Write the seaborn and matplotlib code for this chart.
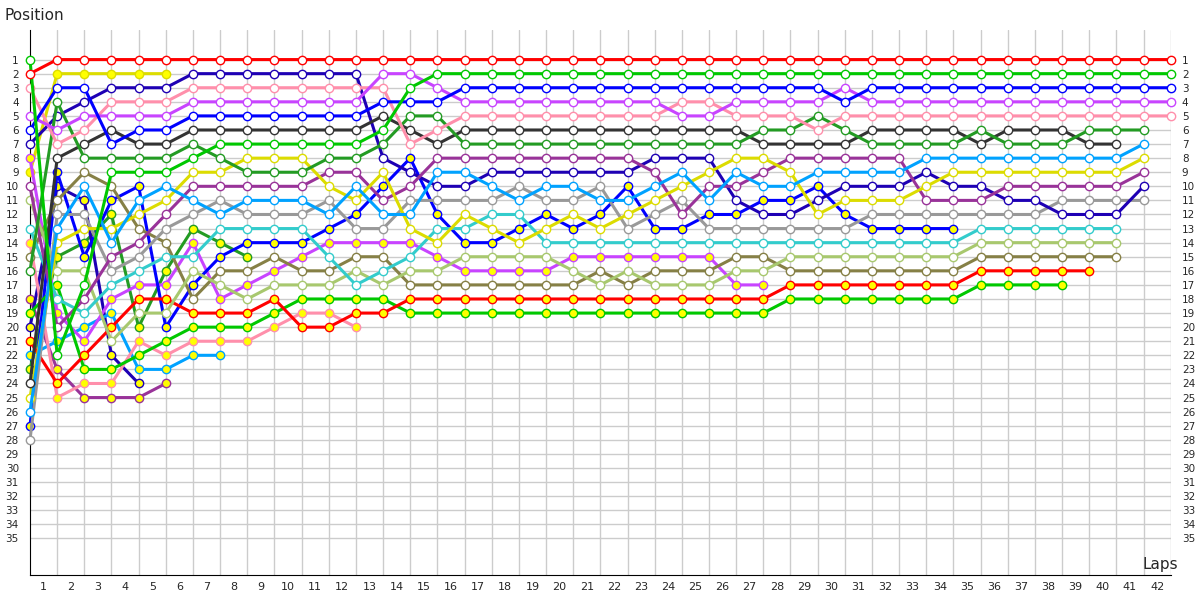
import seaborn as sns
import matplotlib.pyplot as plt
import pandas as pd
import numpy as np

# positions per lap, starting with the grid (lap 0)
red = [2, 1,1,1,1,1,1,1,1,1,1, 1,1,1,1,1,1,1,1,1,1, 1,1,1,1,1,1,1,1,1,1, 1,1,1,1,1,1,1,1,1,1, 1,1]
green = [1, 22,17,9,9,9,8,7,7,7,7, 7,7,6,3,2,2,2,2,2,2, 2,2,2,2,2,2,2,2,2,2, 2,2,2,2,2,2,2,2,2,2, 2,2]
blue = [6, 3,3,7,6,6,5,5,5,5,5, 5,5,4,4,4,3,3,3,3,3, 3,3,3,3,3,3,3,3,3,4, 3,3,3,3,3,3,3,3,3,3, 3,3]
violet = [5, 6,5,5,5,5,4,4,4,4,4, 4,4,2,2,3,4,4,4,4,4, 4,4,4,5,5,4,4,4,4,3, 4,4,4,4,4,4,4,4,4,4, 4,4]
pink = [3, 7,6,4,4,4,3,3,3,3,3, 3,3,3,7,6,5,5,5,5,5, 5,5,5,4,4,5,5,5,6,5, 5,5,5,5,5,5,5,5,5,5, 5,5]
dkgreen = [16, 4,8,8,8,8,7,8,9,9,9, 8,8,7,5,5,7,7,7,7,7, 7,7,7,7,7,7,6,6,5,6, 7,7,7,7,6,7,7,7,6,6, 6]
black = [24, 8,7,6,7,7,6,6,6,6,6, 6,6,5,6,7,6,6,6,6,6, 6,6,6,6,6,6,7,7,7,7, 6,6,6,6,7,6,6,6,7,7]
ltblue = [26, 13,10,14,11,10,11,12,11,11,11, 12,10,12,12,9,9,10,11,10,10, 11,11,10,9,11,9,10,10,9,9, 9,9,8,8,8,8,8,8,8,8, 7]
yellow = [25, 14,13,13,12,11,9,9,8,8,8, 10,11,9,13,14,12,13,14,13,12, 13,12,11,10,9,8,8,9,12,11, 11,11,10,9,9,9,9,9,9,9, 8]
purple = [10, 20,18,15,14,12,10,10,10,10,10, 9,9,11,10,8,8,8,8,8,8, 8,8,9,12,10,10,9,8,8,8, 8,8,11,11,11,10,10,10,10,10, 9]
navy = [7, 5,4,3,3,3,2,2,2,2,2, 2,2,8,9,10,10,9,9,9,9, 9,9,8,8,8,11,12,12,11,10, 10,10,9,10,10,11,11,12,12,12, 10]
grey = [28, 12,12,16,15,13,12,11,12,12,12, 11,13,13,11,11,11,11,10,11,11, 10,13,12,11,13,13,13,13,13,13, 12,12,12,12,12,12,12,11,11,11, 11]
cyan = [13, 18,19,17,16,15,15,13,13,13,13, 15,17,16,15,13,13,12,12,14,14, 14,14,14,14,14,14,14,14,14,14, 14,14,14,14,13,13,13,13,13,13]
ltolive = [11, 16,16,21,19,19,16,17,18,17,17, 17,16,17,16,16,15,15,15,15,16, 17,16,17,17,17,16,16,15,15,15, 15,15,15,15,14,14,14,14,14,14]
olive = [15, 11,9,10,13,14,18,16,16,15,16, 16,15,15,17,17,17,17,17,17,17, 16,17,16,16,16,15,15,16,16,16, 16,16,16,16,15,15,15,15,15,15]
red_b = [21, 24,22,20,18,18,19,19,19,18,20, 20,19,19,18,18,18,18,18,18,18, 18,18,18,18,18,18,18,17,17,17, 17,17,17,17,16,16,16,16,16]
green_b = [19, 17,23,23,22,21,20,20,20,19,18, 18,18,18,19,19,19,19,19,19,19, 19,19,19,19,19,19,19,18,18,18, 18,18,18,18,17,17,17,17]
blue_b = [27, 9,15,11,10,20,17,15,14,14,14, 13,12,10,8,12,14,14,13,12,13, 12,10,13,13,12,12,11,11,10,12, 13,13,13,13]
violet_b = [8, 19,21,18,17,17,14,18,17,16,15, 14,14,14,14,15,16,16,16,16,15, 15,15,15,15,15,17,17]
pink_b = [14, 25,24,24,21,22,21,21,21,20,19, 19,20]
ltblue_b = [22, 21,20,19,23,23,22,22]
navy_b = [20, 10,11,22,24]
purple_b = [18, 23,25,25,25,24]
yellow_b = [9, 2,2,2,2,2]
dkgreen_b = [23, 15,14,12,20,16,13,14,15]

# (positions, colour, yellow-filled markers)
drivers = [
    (red, '#ff0000', False), (green, '#00c800', False), (blue, '#0000ff', False),
    (violet, '#c844ff', False), (pink, '#ff8fab', False), (dkgreen, '#239b23', False),
    (black, '#333333', False), (ltblue, '#00a2ff', False), (yellow, '#dcdc00', False),
    (purple, '#993399', False), (navy, '#1e00b4', False), (grey, '#999999', False),
    (cyan, '#33cccc', False), (ltolive, '#a8c86e', False), (olive, '#868046', False),
    (red_b, '#ff0000', True), (green_b, '#00c800', True), (blue_b, '#0000ff', True),
    (violet_b, '#c844ff', True), (pink_b, '#ff8fab', True), (ltblue_b, '#00a2ff', True),
    (navy_b, '#1e00b4', True), (purple_b, '#993399', True), (yellow_b, '#dcdc00', True),
    (dkgreen_b, '#239b23', True),
]

sns.set_style('white')
plt.rcParams['font.family'] = ['DejaVu Sans']

fig = plt.figure(figsize=(12, 6), dpi=100)
ax = fig.add_axes([30 / 1200, 25 / 600, 1140.7 / 1200, 545 / 600])

for i, (pos, col, lapped) in enumerate(reversed(drivers)):
    df = pd.DataFrame({'lap': np.arange(len(pos)), 'pos': pos})
    sns.lineplot(data=df, x='lap', y='pos', ax=ax, color=col, lw=2.2,
                 marker='o', markersize=6, markerfacecolor='#ffff00' if lapped else 'white',
                 markeredgecolor=col, markeredgewidth=1, clip_on=False, zorder=3 + i)

ax.set_xlim(0, 42)
ax.set_ylim(37.6, -1.1)
ax.set_xticks(np.arange(1, 43))
ax.set_xticks(np.arange(1, 43) - 0.5, minor=True)
ax.set_xticklabels([])
ax.set_xticklabels([str(n) for n in range(1, 43)], minor=True, fontsize=8)
ax.set_yticks(np.arange(1, 36))
ax.set_yticklabels([str(n) for n in range(1, 36)], fontsize=7.5)
ax.tick_params(axis='both', which='both', length=0)
ax.tick_params(axis='y', labelright=True, pad=8)
ax.tick_params(axis='x', which='minor', pad=5)
ax.grid(True, which='major', color='#cccccc', lw=1)
ax.set_axisbelow(True)
for s in ['top', 'right']:
    ax.spines[s].set_visible(False)
ax.spines['left'].set_color('black')
ax.spines['bottom'].set_color('black')
ax.set_xlabel('')
ax.set_ylabel('')

fig.text(5 / 1200, 1 - 15 / 600, 'Position', fontsize=11, va='center', ha='left')
fig.text(1143 / 1200, 1 - 565 / 600, 'Laps', fontsize=11, va='center', ha='left')

fig.savefig('out.png', dpi=100)
